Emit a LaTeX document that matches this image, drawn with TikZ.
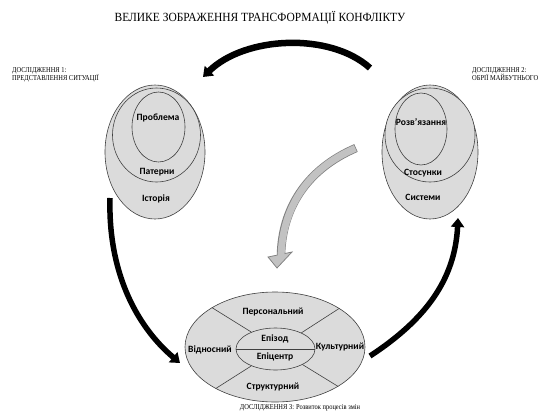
\documentclass[tikz,border=0pt]{standalone}
\usepackage{fontspec}
\setmainfont{Liberation Serif}
\newfontfamily\ringfont{Carlito}
\usetikzlibrary{shapes.geometric, arrows.meta, positioning}
\newcommand{\nar}[1]{\scalebox{0.86}[1]{#1}}

\begin{document}
\begin{tikzpicture}[x=1pt, y=-1pt,
	ring/.style={draw=black!75, fill=black!14, ellipse, line width=0.6pt, inner sep=0pt},
	word/.style={font=\ringfont\bfseries\fontsize{9.6}{10}\selectfont, inner sep=0pt},
	studylabel/.style={font=\fontsize{7.5}{8}\selectfont, align=left, inner sep=0pt},
	sep/.style={draw=black!75, line width=0.6pt},
	bigarrow/.style={line width=6pt, -{Triangle[length=9pt, width=13pt]}}]
	\useasboundingbox (0,0) rectangle (560,418);
	\node[font=\fontsize{12.5}{13}\selectfont] (title) at (260,18) {\scalebox{0.92}[1]{ВЕЛИКЕ ЗОБРАЖЕННЯ ТРАНСФОРМАЦІЇ КОНФЛІКТУ}};
	\node[studylabel, anchor=north west] (study1) at (12,67) {\nar{ДОСЛІДЖЕННЯ 1:}\\\nar{ПРЕДСТАВЛЕННЯ СИТУАЦІЇ}};
	\node[studylabel, anchor=north west] (study2) at (472,67) {\nar{ДОСЛІДЖЕННЯ 2:}\\\nar{ОБРІЇ МАЙБУТНЬОГО}};
	\node[studylabel] (study3) at (300,408) {\nar{ДОСЛІДЖЕННЯ 3: Розвиток процесів змін}};
	% present situation
	\node[ring, minimum width=100, minimum height=134] (hist) at (155,152) {};
	\node[ring, minimum width=88, minimum height=94] (patt) at (156.5,135) {};
	\node[ring, minimum width=53, minimum height=70] (prob) at (158.5,127) {};
	\node[word] (probtxt) at (158,118) {Проблема};
	\node[word] (patttxt) at (157,172) {Патерни};
	\node[word] (histtxt) at (156,199) {Історія};
	% horizon of the future
	\node[ring, minimum width=96, minimum height=134] (syst) at (430,152) {};
	\node[ring, minimum width=90, minimum height=94] (rel) at (430,135) {};
	\node[ring, minimum width=52, minimum height=72] (sol) at (421,129) {};
	\node[word] (soltxt) at (421,122) {Розв’язання};
	\node[word] (reltxt) at (423,173) {Стосунки};
	\node[word] (systxt) at (423,197) {Системи};
	% change processes
	\node[ring, minimum width=180, minimum height=110] (proc) at (275,347) {};
	\node[ring, minimum width=79, minimum height=42] (core) at (275.5,349) {};
	\draw[sep] (core.west) -- (core.east);
	\foreach \a/\b in {145/148, 32/31, 215/215, 330/328}
		\draw[sep] (core.\a) -- (proc.\b);
	\node[word] (pers) at (273,312) {Персональний};
	\node[word] (epis) at (275,339) {Епізод};
	\node[word] (epic) at (275,357) {Епіцентр};
	\node[word] (rela) at (210,350) {Відносний};
	\node[word] (cult) at (340,347) {Культурний};
	\node[word] (stru) at (273,387) {Структурний};
	% arrows
	\coordinate (a1s) at (370,68);
	\coordinate (a1e) at (203,77);
	\coordinate (a2s) at (110,198);
	\coordinate (a2e) at (180,363);
	\coordinate (a3s) at (370,356);
	\coordinate (a3e) at (458,218);
	\draw[bigarrow, line width=6.5pt] (a1s) .. controls (330,32) and (245,36) .. (a1e);
	\draw[bigarrow, line width=5.5pt] (a2s) .. controls (108,270) and (135,325) .. (a2e);
	\draw[bigarrow, line width=5.5pt] (a3s) .. controls (425,320) and (455,280) .. (a3e);
	\coordinate (g1) at (356,148);
	\coordinate (g2) at (281,255);
	\coordinate (g3) at (281,258);
	\draw[line width=8.5pt, draw=black!50] (g1) .. controls (305,170) and (282,210) .. (g2);
	\filldraw[fill=black!24, draw=black!50, line width=0.75pt] (268,257) -- (292,252) -- (277,268) -- cycle;
	\draw[line width=7pt, draw=black!24, shorten <=0.75pt] (g1) .. controls (305,170) and (282,210) .. (g3);
\end{tikzpicture}
\end{document}
